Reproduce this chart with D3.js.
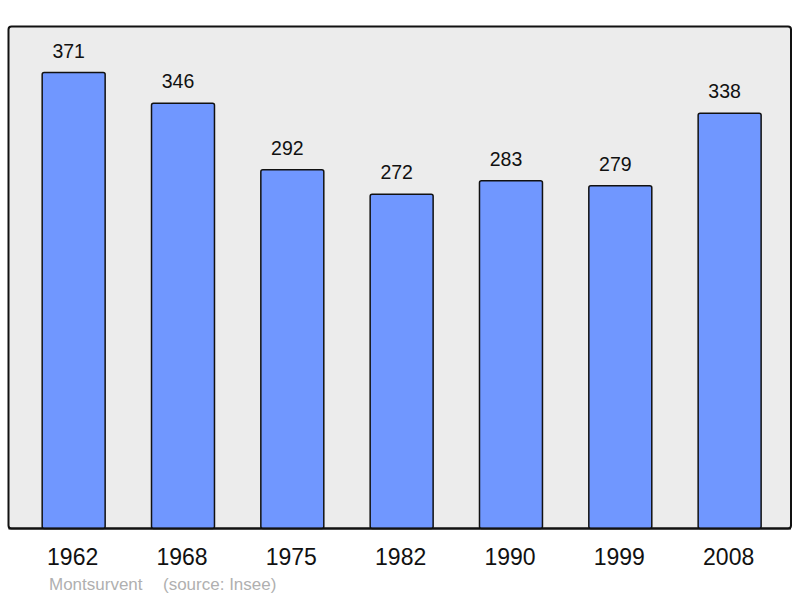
<!DOCTYPE html>
<html lang="fr">
<head>
  <meta charset="UTF-8">
  <title>Montsurvent population</title>
  <script src="https://d3js.org/d3.v7.min.js"></script>
  <style>
    body { margin: 0; background: #fff; }
    svg { display: block; font-family: "Liberation Sans", Arial, sans-serif; }
  </style>
</head>
<body>
  <svg width="800" height="598"></svg>
  <script>
    // Population by census year
    const years = ["1962", "1968", "1975", "1982", "1990", "1999", "2008"];
    const population = [371, 346, 292, 272, 283, 279, 338];
    const commune = "Montsurvent";
    const source = "(source: Insee)";

    const svg = d3.select("svg");
    const panel = { left: 8.5, top: 26.5, right: 791, bottom: 528.5 };

    const x = d3.scaleBand()
        .domain(years)
        .range([19, 784.3])
        .paddingInner(0.424)
        .paddingOuter(0.212);

    const y = d3.scaleLinear()
        .domain([0, 408.5])
        .range([panel.bottom, panel.top]);

    // background panel
    svg.append("rect")
       .attr("x", panel.left)
       .attr("y", panel.top)
       .attr("width", panel.right - panel.left)
       .attr("height", panel.bottom - panel.top)
       .attr("rx", 3)
       .attr("fill", "#ececec")
       .attr("stroke", "#111")
       .attr("stroke-width", 2);

    const data = years.map((yr, i) => ({ year: yr, value: population[i] }));

    svg.selectAll(".bar")
       .data(data)
       .enter().append("rect")
       .attr("class", "bar")
       .attr("x", d => x(d.year))
       .attr("y", d => y(d.value))
       .attr("width", x.bandwidth())
       .attr("height", d => y(0) - y(d.value))
       .attr("rx", 2)
       .attr("fill", "#7097ff")
       .attr("stroke", "#111")
       .attr("stroke-width", 1.5);

    // value labels above bars
    svg.selectAll(".val")
       .data(data)
       .enter().append("text")
       .attr("class", "val")
       .attr("x", d => x(d.year) + x.bandwidth() / 2 - 5)
       .attr("y", d => y(d.value) - 15)
       .attr("text-anchor", "middle")
       .style("font-size", "19.5px")
       .attr("fill", "#111")
       .text(d => d.value);

    // redraw the bottom border over the bars
    svg.append("line")
       .attr("x1", panel.left).attr("x2", panel.right)
       .attr("y1", panel.bottom).attr("y2", panel.bottom)
       .attr("stroke", "#111").attr("stroke-width", 2);

    // year labels
    svg.selectAll(".year")
       .data(years)
       .enter().append("text")
       .attr("class", "year")
       .attr("x", d => x(d) + x.bandwidth() / 2 - 1)
       .attr("y", 565)
       .attr("text-anchor", "middle")
       .style("font-size", "23px")
       .attr("fill", "#111")
       .text(d => d);

    svg.append("text")
       .attr("x", 49)
       .attr("y", 590)
       .style("font-size", "17px")
       .attr("fill", "#b0b0b0")
       .text(commune);

    svg.append("text")
       .attr("x", 163)
       .attr("y", 590)
       .style("font-size", "17px")
       .attr("fill", "#b0b0b0")
       .text(source);
  </script>
</body>
</html>
